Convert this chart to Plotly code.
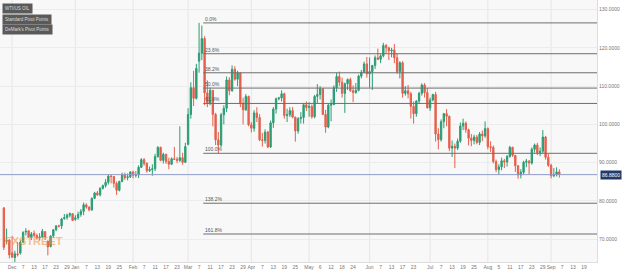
import pandas as pd
import plotly.graph_objects as go

# ---------------- data ----------------
first_day = "2021-11-26"   # first candle (weekday axis)

open_ = [78.2, 69.5, 69.8,
         66.5, 65.2, 66.2, 66.4, 69.3, 71.9, 72.2, 70.5, 71.6, 71.0, 70.4, 70.6, 72.0, 69.5, 68.1, 70.9, 72.5, 73.5, 73.5, 75.4, 75.7, 76.3, 76.7,
         75.2, 75.6, 76.5, 77.3, 79.0, 78.4, 77.7, 80.7, 82.1, 81.6, 83.3, 84.0, 84.9, 86.5, 86.4, 84.6, 82.8, 85.1, 86.9, 86.1, 86.3,
         87.6, 86.7, 86.8, 88.8, 90.8, 89.8, 87.9, 88.2, 88.4, 91.6, 94.0, 90.6, 92.2, 90.3, 89.6, 91.0, 90.9, 90.6, 91.3, 90.1,
         94.8, 102.6, 109.6, 106.8, 116.5, 118.6, 122.4, 108.2, 105.6, 108.9, 102.6, 96.0, 94.6, 102.5, 104.2, 111.6, 108.8, 114.4, 111.8, 113.4, 105.5, 103.8, 107.3,
         99.9, 99.0, 103.0, 101.8, 96.0, 95.8, 98.0, 94.1, 100.4, 104.0, 106.7, 106.9, 108.0, 102.3, 102.5, 103.6, 101.9, 98.3, 101.5, 101.8, 105.1,
         104.4, 104.7, 102.0, 107.3, 107.8, 109.3, 102.6, 99.3, 105.0, 105.2, 109.6, 112.5, 111.0, 108.1, 110.6, 111.7, 108.8, 108.3, 108.9, 112.6, 113.6, 115.8,
         113.2, 113.8, 115.4, 117.4, 117.0, 117.9, 120.6, 120.0, 119.2, 119.4, 117.4, 113.8, 116.1, 108.1, 108.8, 108.0, 104.7, 102.8, 106.1, 108.1, 110.3, 108.3,
         104.3, 106.4, 107.8, 97.5, 96.0, 100.7, 102.8, 102.1, 93.8, 94.3, 93.8, 95.6, 99.6, 100.3, 98.6, 96.4, 95.8, 96.7, 95.3, 97.5, 97.0,
         98.9, 94.2, 94.0, 90.3, 88.2, 88.9, 90.5, 90.2, 91.6, 94.0, 91.9, 89.2, 86.8, 87.5, 90.1, 90.4, 89.9, 93.5, 94.6, 92.6, 93.0, 96.7, 91.4,
         89.3, 86.6, 86.9, 87.6]

high = [78.4, 72.8, 70.0,
        70.9, 67.0, 69.3, 69.7, 72.1, 72.9, 72.4, 71.9, 72.3, 71.5, 71.6, 72.7, 72.1, 69.7, 71.1, 72.6, 73.7, 73.8, 75.6, 76.6, 76.7, 77.0, 76.8,
        76.3, 77.2, 77.9, 79.6, 79.4, 78.6, 80.9, 82.4, 82.6, 83.6, 84.3, 85.7, 86.9, 86.9, 86.5, 85.1, 85.3, 87.4, 87.4, 87.2, 87.7,
        87.9, 87.8, 89.3, 91.2, 91.2, 90.1, 89.0, 89.6, 92.3, 94.3, 94.2, 92.6, 92.3, 91.3, 91.4, 94.1, 91.5, 99.5, 92.6, 95.2,
        104.2, 111.0, 114.0, 115.8, 126.5, 125.8, 123.0, 111.5, 109.6, 109.0, 103.0, 98.0, 103.0, 105.0, 112.5, 112.3, 115.4, 115.2, 114.0, 113.6, 107.0, 107.9, 107.5,
        100.6, 103.7, 104.5, 102.7, 97.8, 98.7, 98.3, 101.0, 104.5, 107.0, 107.2, 108.9, 108.3, 104.1, 104.5, 104.5, 102.0, 101.9, 103.2, 105.6, 106.0,
        105.8, 105.2, 107.7, 110.5, 110.0, 109.5, 103.8, 105.5, 106.5, 110.2, 113.5, 113.8, 112.2, 110.9, 112.0, 112.2, 110.2, 110.8, 113.0, 114.2, 116.4, 117.6,
        117.5, 115.5, 118.0, 119.8, 118.3, 121.3, 121.0, 120.3, 120.0, 121.0, 118.5, 116.5, 116.5, 110.0, 110.3, 108.5, 106.0, 106.3, 108.5, 110.7, 110.8, 109.5,
        107.0, 108.0, 108.5, 99.0, 101.3, 103.0, 104.0, 102.3, 95.8, 95.0, 96.3, 100.5, 101.5, 100.8, 98.9, 97.5, 97.3, 97.2, 98.0, 98.4, 100.8,
        99.2, 95.6, 94.5, 90.8, 89.6, 91.3, 91.0, 92.0, 94.4, 94.2, 92.0, 89.4, 88.3, 90.5, 91.0, 90.7, 94.0, 95.0, 95.2, 94.0, 98.5, 97.0, 92.3,
        89.7, 88.6, 88.8, 88.3]

low = [67.2, 68.8, 65.0,
       65.3, 64.0, 65.5, 66.0, 69.0, 71.0, 70.4, 69.8, 70.6, 69.9, 69.7, 70.4, 69.8, 65.8, 67.9, 70.4, 72.1, 73.1, 72.7, 75.1, 75.1, 75.7, 74.9,
       74.8, 75.1, 75.9, 76.3, 78.0, 77.3, 77.4, 80.5, 81.3, 81.2, 83.0, 83.5, 84.3, 84.6, 83.5, 81.6, 82.5, 84.9, 85.5, 85.4, 86.0,
       85.9, 86.1, 86.0, 88.6, 89.2, 87.4, 87.6, 86.6, 87.8, 91.3, 90.4, 89.8, 89.7, 88.3, 89.4, 90.7, 89.9, 90.2, 89.5, 89.9,
       94.5, 101.5, 104.8, 106.5, 113.5, 116.8, 105.0, 104.5, 105.0, 99.5, 94.6, 92.45, 94.0, 100.0, 103.2, 107.6, 108.5, 111.4, 110.0, 104.5, 100.0, 103.5, 99.5,
       97.9, 98.1, 100.6, 95.6, 94.2, 95.0, 93.8, 93.9, 99.1, 102.8, 106.3, 106.0, 101.5, 100.6, 101.9, 101.6, 95.5, 97.6, 100.2, 100.2, 103.5,
       102.0, 101.5, 101.6, 105.5, 106.5, 102.5, 97.8, 99.0, 100.8, 105.0, 108.5, 110.0, 107.0, 103.0, 109.0, 108.5, 105.8, 108.0, 108.6, 112.0, 113.4, 112.2,
       109.6, 109.0, 114.5, 116.8, 116.0, 117.5, 118.5, 116.8, 117.5, 116.0, 113.2, 112.0, 107.0, 107.5, 106.8, 101.5, 100.2, 102.0, 105.5, 107.5, 107.0, 104.2,
       103.5, 106.0, 95.5, 93.5, 95.5, 99.0, 99.5, 93.0, 91.5, 88.6, 93.3, 95.2, 98.5, 97.8, 94.5, 94.3, 94.8, 94.8, 94.6, 95.6, 96.5,
       93.5, 92.8, 89.8, 87.5, 87.0, 88.0, 88.6, 89.0, 91.3, 91.5, 87.6, 85.8, 85.9, 86.9, 88.8, 87.0, 89.5, 92.6, 92.0, 91.7, 92.5, 90.8, 88.9,
       85.9, 86.2, 86.4, 86.1]

close = [67.9, 69.7, 65.9,
         65.3, 66.2, 66.0, 69.2, 71.8, 72.1, 70.6, 71.4, 71.0, 70.4, 70.6, 72.1, 70.6, 68.0, 70.8, 72.5, 73.5, 73.4, 75.3, 75.7, 76.3, 76.7, 74.9,
         75.6, 76.5, 77.3, 79.0, 78.4, 77.7, 80.7, 82.1, 81.6, 83.3, 84.0, 84.9, 86.5, 86.4, 84.6, 82.8, 85.1, 86.9, 86.1, 86.3, 87.6,
         86.7, 86.8, 88.8, 90.8, 89.8, 87.9, 88.2, 88.4, 91.6, 94.0, 90.6, 92.2, 90.3, 89.6, 91.0, 90.9, 90.6, 91.3, 90.1, 94.2,
         102.6, 109.6, 106.8, 114.6, 118.6, 122.4, 108.2, 105.6, 108.9, 102.6, 96.0, 94.6, 102.5, 104.2, 111.6, 108.8, 114.4, 111.8, 113.4, 105.5, 103.8, 107.3, 99.9,
         99.0, 103.0, 101.8, 96.0, 95.8, 98.0, 94.1, 100.4, 104.0, 106.7, 106.9, 108.0, 102.3, 102.5, 103.6, 101.9, 98.3, 101.5, 101.8, 105.1, 104.4,
         104.7, 102.0, 107.3, 107.8, 109.3, 102.6, 99.3, 105.0, 105.2, 109.6, 112.5, 111.0, 108.1, 110.6, 111.7, 108.8, 108.3, 108.9, 112.6, 113.6, 115.8, 113.2,
         113.8, 115.4, 117.4, 117.0, 117.9, 120.6, 120.0, 119.2, 119.4, 117.4, 113.8, 116.1, 108.1, 108.8, 108.0, 104.7, 102.8, 106.1, 108.1, 110.3, 108.3, 104.3,
         106.4, 107.8, 97.5, 96.0, 100.7, 102.8, 102.1, 93.8, 94.3, 93.8, 95.6, 99.6, 100.3, 98.6, 96.4, 95.8, 96.7, 95.3, 97.5, 97.0, 98.9,
         94.2, 94.0, 90.3, 88.2, 88.9, 90.5, 90.2, 91.6, 94.0, 91.9, 89.2, 86.8, 87.5, 90.1, 90.4, 89.9, 93.5, 94.6, 92.6, 93.0, 96.7, 91.4, 89.3,
         86.6, 86.9, 87.6, 86.88]

last_price = 86.88

fib_labels = ["0.0%", "23.6%", "38.2%", "50.0%", "61.8%", "100.0%", "138.2%", "161.8%"]
fib_values = [126.5, 118.45, 113.48, 109.48, 105.47, 92.45, 79.42, 71.38]
fib_start_date = "2022-03-08"

tick_dates = ["2021-12-01", "2021-12-07", "2021-12-13", "2021-12-17", "2021-12-23", "2021-12-29",
              "2022-01-03", "2022-01-07", "2022-01-13", "2022-01-19", "2022-01-25",
              "2022-02-01", "2022-02-07", "2022-02-11", "2022-02-17", "2022-02-23",
              "2022-03-01", "2022-03-07", "2022-03-11", "2022-03-17", "2022-03-23", "2022-03-29",
              "2022-04-01", "2022-04-07", "2022-04-13", "2022-04-19", "2022-04-25",
              "2022-05-02", "2022-05-06", "2022-05-12", "2022-05-18", "2022-05-24",
              "2022-06-01", "2022-06-07", "2022-06-13", "2022-06-17", "2022-06-23",
              "2022-07-01", "2022-07-07", "2022-07-13", "2022-07-19", "2022-07-25",
              "2022-08-01", "2022-08-05", "2022-08-11", "2022-08-17", "2022-08-23", "2022-08-29",
              "2022-09-01", "2022-09-07", "2022-09-13", "2022-09-19"]
tick_text = ["Dec", "7", "13", "17", "23", "29",
             "Jan", "7", "13", "19", "25",
             "Feb", "7", "11", "17", "23",
             "Mar", "7", "11", "17", "23", "29",
             "Apr", "7", "13", "19", "25",
             "May", "6", "12", "18", "24",
             "Jun", "7", "13", "17", "23",
             "Jul", "7", "13", "19", "25",
             "Aug", "5", "11", "17", "23", "29",
             "Sep", "7", "13", "19"]
month_names = ["Dec", "Jan", "Feb", "Mar", "Apr", "May", "Jun", "Jul", "Aug", "Sep"]
y_ticks = [70, 80, 90, 100, 110, 120, 130]

# ---------------- weekday axis ----------------
n = len(close)
assert len(open_) == n and len(high) == n and len(low) == n
days = pd.bdate_range(first_day, "2022-10-31")
pos = {d.strftime("%Y-%m-%d"): i - 3 for i, d in enumerate(days)}
x = [i - 3 for i in range(n)]
tick_vals = [pos[d] for d in tick_dates]
month_vals = [v for v, t in zip(tick_vals, tick_text) if t in month_names]

X_MIN, X_MAX = -4.4, 212.7
Y_MIN, Y_MAX = 64.07, 132.48

GREEN = "#2a9d74"
RED = "#e5604c"
FONT = "Liberation Sans"

fig = go.Figure()
fig.add_trace(go.Candlestick(
    x=x, open=open_, high=high, low=low, close=close,
    increasing=dict(line=dict(color=GREEN, width=1), fillcolor=GREEN),
    decreasing=dict(line=dict(color=RED, width=1), fillcolor=RED),
    whiskerwidth=0, showlegend=False, hoverinfo="skip"))

shapes = []
# vertical month gridlines
for v in month_vals:
    shapes.append(dict(type="line", xref="x", yref="paper", x0=v, x1=v, y0=0, y1=1,
                       line=dict(color="#e6e6e6", width=1), layer="below"))
# fib lines
fib_x0 = pos[fib_start_date] + 0.5
annotations = []
for lab, val in zip(fib_labels, fib_values):
    shapes.append(dict(type="line", xref="x", yref="y", x0=fib_x0, x1=X_MAX, y0=val, y1=val,
                       line=dict(color="#6e6e6e", width=1)))
    annotations.append(dict(x=fib_x0, y=val, xref="x", yref="y", text=lab, showarrow=False,
                            xanchor="left", yanchor="bottom", yshift=-1,
                            font=dict(size=5, color="#555555", family=FONT)))
# last price line
shapes.append(dict(type="line", xref="paper", yref="y", x0=0, x1=1, y0=last_price, y1=last_price,
                   line=dict(color="#8e9cc6", width=1)))
annotations.append(dict(x=1, y=last_price, xref="paper", yref="y", text=f"{last_price:.4f}",
                        showarrow=False, xanchor="left", yanchor="middle", xshift=3,
                        bgcolor="#1f3a6b", borderpad=1,
                        font=dict(size=5, color="#ffffff", family=FONT)))
# top-left tags
for i, t in enumerate(["WTI/US OIL", "Standard Pivot Points", "DeMark's Pivot Points"]):
    annotations.append(dict(x=0.004, y=0.99 - i * 0.04 - (0.003 if i else 0), xref="paper", yref="paper", text=t,
                            showarrow=False, xanchor="left", yanchor="top",
                            bgcolor="#5a5a5a", borderpad=2,
                            font=dict(size=4.5, color="#dddddd", family=FONT)))
# watermark
annotations.append(dict(x=0.005, y=0.05, xref="paper", yref="paper", text="<b>FXSTREET</b>",
                        showarrow=False, xanchor="left", yanchor="bottom",
                        font=dict(size=11, color="rgba(240,140,50,0.55)", family="Liberation Sans Narrow, " + FONT)))

fig.update_layout(
    width=625, height=276,
    margin=dict(l=0, r=28, t=0, b=14),
    paper_bgcolor="#ffffff", plot_bgcolor="#f8f8f8",
    shapes=shapes, annotations=annotations,
    xaxis=dict(range=[X_MIN, X_MAX], tickvals=tick_vals, ticktext=tick_text, tickangle=0,
               showgrid=False, zeroline=False, rangeslider=dict(visible=False),
               tickfont=dict(size=5, color="#777777", family=FONT), ticks="",
               showline=True, linecolor="#dddddd", linewidth=1),
    yaxis=dict(range=[Y_MIN, Y_MAX], side="right", tickvals=y_ticks, tickformat=".4f",
               showgrid=True, gridcolor="#ececec", zeroline=False,
               tickfont=dict(size=5, color="#777777", family=FONT), ticks="",
               showline=True, linecolor="#dddddd", linewidth=1),
)

fig.write_html("out.html")
